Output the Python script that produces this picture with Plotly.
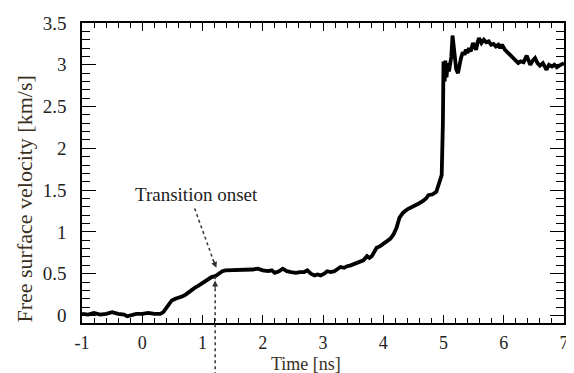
import plotly.graph_objects as go

time_ns = [-1.0, -0.9, -0.8, -0.7, -0.6, -0.5, -0.4, -0.3, -0.25, -0.2, -0.1, 0.0, 0.1, 0.2, 0.3,
           0.35, 0.41, 0.49, 0.55, 0.61, 0.67, 0.72, 0.80, 0.87, 0.94, 1.0, 1.05, 1.10, 1.15, 1.21,
           1.27, 1.33, 1.38, 1.45, 1.52, 1.59, 1.67, 1.75, 1.83, 1.92, 2.0, 2.09, 2.15, 2.2, 2.27,
           2.33, 2.40, 2.47, 2.55, 2.62, 2.69, 2.74, 2.80, 2.86, 2.91, 2.96, 3.02, 3.07, 3.13, 3.19,
           3.24, 3.29, 3.35, 3.40, 3.46, 3.52, 3.57, 3.61, 3.67, 3.73, 3.77, 3.81, 3.85, 3.89, 3.95,
           4.01, 4.06, 4.12, 4.17, 4.22, 4.27, 4.33, 4.40, 4.46, 4.52, 4.59, 4.66, 4.71, 4.75, 4.82,
           4.88, 4.93, 4.97, 4.99, 5.00, 5.02, 5.03, 5.05, 5.07, 5.09, 5.11, 5.13, 5.15, 5.17, 5.19,
           5.21, 5.24, 5.27, 5.29, 5.32, 5.35, 5.37, 5.40, 5.42, 5.45, 5.49, 5.52, 5.54, 5.57, 5.59,
           5.63, 5.67, 5.71, 5.75, 5.79, 5.83, 5.87, 5.91, 5.94, 5.97, 6.02, 6.06, 6.10, 6.14, 6.19,
           6.24, 6.28, 6.33, 6.38, 6.41, 6.44, 6.48, 6.52, 6.56, 6.60, 6.65, 6.68, 6.71, 6.75, 6.80,
           6.84, 6.88, 6.92, 6.96, 7.0]
velocity = [0.02, 0.01, 0.03, 0.01, 0.02, 0.04, 0.02, 0.01, -0.01, 0.0, 0.02, 0.02, 0.03, 0.02, 0.02,
            0.04, 0.10, 0.18, 0.20, 0.21, 0.23, 0.25, 0.30, 0.33, 0.36, 0.39, 0.42, 0.44, 0.46, 0.47,
            0.50, 0.53, 0.54, 0.54, 0.55, 0.54, 0.55, 0.54, 0.55, 0.56, 0.54, 0.53, 0.54, 0.51, 0.53,
            0.56, 0.53, 0.52, 0.51, 0.52, 0.52, 0.54, 0.50, 0.48, 0.49, 0.48, 0.50, 0.53, 0.52, 0.53,
            0.55, 0.58, 0.57, 0.59, 0.60, 0.62, 0.63, 0.64, 0.66, 0.71, 0.69, 0.71, 0.76, 0.81, 0.83,
            0.86, 0.89, 0.92, 0.97, 1.05, 1.17, 1.23, 1.27, 1.29, 1.31, 1.34, 1.37, 1.40, 1.44, 1.45,
            1.48, 1.58, 1.68, 2.30, 3.04, 2.80, 3.05, 2.85, 3.02, 2.92, 3.05, 3.10, 3.35, 3.20, 3.03,
            2.95, 2.90, 3.05, 3.08, 3.15, 3.12, 3.18, 3.14, 3.20, 3.16, 3.26, 3.20, 3.18, 3.28, 3.32,
            3.26, 3.30, 3.27, 3.28, 3.24, 3.25, 3.22, 3.24, 3.20, 3.24, 3.18, 3.15, 3.12, 3.10, 3.05,
            3.02, 3.04, 3.03, 3.11, 3.04, 3.00, 3.05, 3.08, 3.02, 2.99, 3.02, 2.98, 2.94, 3.00, 2.98,
            3.00, 2.97, 2.99, 3.00, 3.02]

x_ticks = [-1, 0, 1, 2, 3, 4, 5, 6, 7]
x_tick_text = ["-1", "0", "1", "2", "3", "4", "5", "6", "7"]
y_ticks = [0, 0.5, 1, 1.5, 2, 2.5, 3, 3.5]
y_tick_text = ["0", "0.5", "1", "1.5", "2", "2.5", "3", "3.5"]

onset_time = 1.21
onset_velocity = 0.47

FONT = "Liberation Serif"
TXT = "#222222"
TITLE_COL = "#3a3020"

fig = go.Figure()
fig.add_trace(go.Scatter(x=time_ns, y=velocity, mode="lines",
                         line=dict(color="black", width=3.8), showlegend=False))

axis_common = dict(showgrid=False, zeroline=False, showline=True, linecolor="black",
                   linewidth=1.5, mirror="allticks", ticks="inside", tickcolor="black",
                   tickwidth=1.3)

fig.update_xaxes(range=[-1, 7], tickvals=x_ticks, ticktext=x_tick_text, ticklen=8,
                 ticklabelstandoff=3, tickfont=dict(family=FONT, size=18, color=TXT),
                 minor=dict(dtick=0.2, ticks="inside", ticklen=5, tickcolor="black", tickwidth=1.2),
                 **axis_common)
fig.update_yaxes(range=[-0.09, 3.5], tickvals=y_ticks, ticktext=y_tick_text, ticklen=14,
                 ticklabelstandoff=10, tickfont=dict(family=FONT, size=19, color=TXT),
                 minor=dict(dtick=0.1, ticks="inside", ticklen=8, tickcolor="black", tickwidth=1.2),
                 **axis_common)

# vertical dashed marker at transition onset
fig.add_shape(type="line", xref="x", yref="paper", x0=onset_time, x1=onset_time,
              y0=(onset_velocity + 0.09) / 3.59, y1=-0.2,
              line=dict(color="#333333", width=1.5, dash="dot"))
fig.add_annotation(x=onset_time, y=onset_velocity - 0.05, xref="x", yref="y", ax=0, ay=9,
                   text="", showarrow=True, arrowhead=2, arrowsize=1, arrowwidth=1.2,
                   arrowcolor="#333333", standoff=0)

# dashed arrow from label
fig.add_shape(type="line", xref="x", yref="y", x0=0.87, y0=1.28, x1=1.19, y1=0.64,
              line=dict(color="#333333", width=1.5, dash="dot"))
fig.add_annotation(x=1.23, y=0.57, xref="x", yref="y", ax=-4, ay=-10, text="",
                   showarrow=True, arrowhead=2, arrowsize=1, arrowwidth=1.2,
                   arrowcolor="#333333", standoff=0)
fig.add_annotation(x=0.9, y=1.45, xref="x", yref="y", text="Transition onset",
                   showarrow=False, font=dict(family=FONT, size=19, color=TXT))

# axis titles
fig.add_annotation(x=0.464, y=-0.137, xref="paper", yref="paper", text="Time [ns]",
                   showarrow=False, yanchor="middle",
                   font=dict(family=FONT, size=18, color=TITLE_COL))
fig.add_annotation(x=-0.15, y=0.412, xref="paper", yref="paper",
                   text="Free surface velocity [km/s]", textangle=-90, showarrow=False,
                   font=dict(family=FONT, size=22, color=TITLE_COL))

# page body has an 8px margin: shrink the figure and offset margins accordingly
fig.update_layout(width=566, height=365, margin=dict(l=74, r=5, t=14, b=50),
                  plot_bgcolor="white", paper_bgcolor="white")

fig.write_html("out.html")
